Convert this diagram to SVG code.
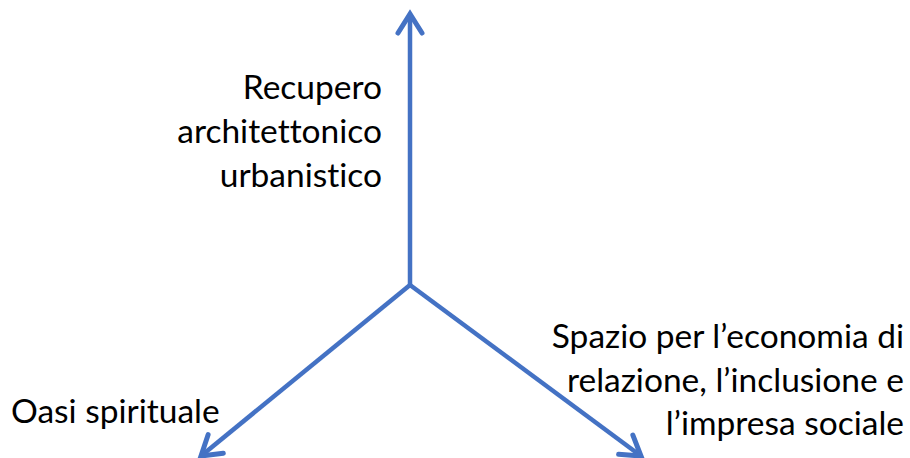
<svg xmlns="http://www.w3.org/2000/svg" width="910" height="458" viewBox="0 0 910 458">
<style>
.ax{stroke:#4472C4;stroke-width:4.5;fill:none;stroke-linecap:butt}
.lbl{font-family:Lato,"Open Sans","Liberation Sans",sans-serif;font-size:33.5px;fill:#000;font-variant-ligatures:none;font-feature-settings:"liga" 0}
</style>
<defs>
<marker id="ah" markerUnits="userSpaceOnUse" viewBox="-30 -20 40 40" refX="0" refY="0" markerWidth="40" markerHeight="40" orient="auto">
<path d="M-19,-12 L0,0 L-19,12" stroke="#4472C4" stroke-width="5" fill="none" stroke-linecap="round" stroke-linejoin="miter"/>
</marker>
</defs>
<rect width="910" height="458" fill="#fff"/>
<g id="connectors">
<line class="ax" x1="410" y1="286" x2="410" y2="14" marker-end="url(#ah)"/>
<line class="ax" x1="410" y1="285" x2="201" y2="456" marker-end="url(#ah)"/>
<line class="ax" x1="410" y1="285" x2="641" y2="456" marker-end="url(#ah)"/>
</g>
<g id="node-top">
<text class="lbl" text-anchor="end" x="382" y="99">Recupero</text>
<text class="lbl" text-anchor="end" x="382" y="143">architettonico</text>
<text class="lbl" text-anchor="end" x="382" y="187">urbanistico</text>
</g>
<g id="node-right">
<text class="lbl" text-anchor="end" x="904" y="348">Spazio per l’economia di</text>
<text class="lbl" text-anchor="end" x="904" y="392">relazione, l’inclusione e</text>
<text class="lbl" text-anchor="end" x="904" y="435">l’impresa sociale</text>
</g>
<g id="node-left">
<text class="lbl" x="11" y="423">Oasi spirituale</text>
</g>
</svg>
